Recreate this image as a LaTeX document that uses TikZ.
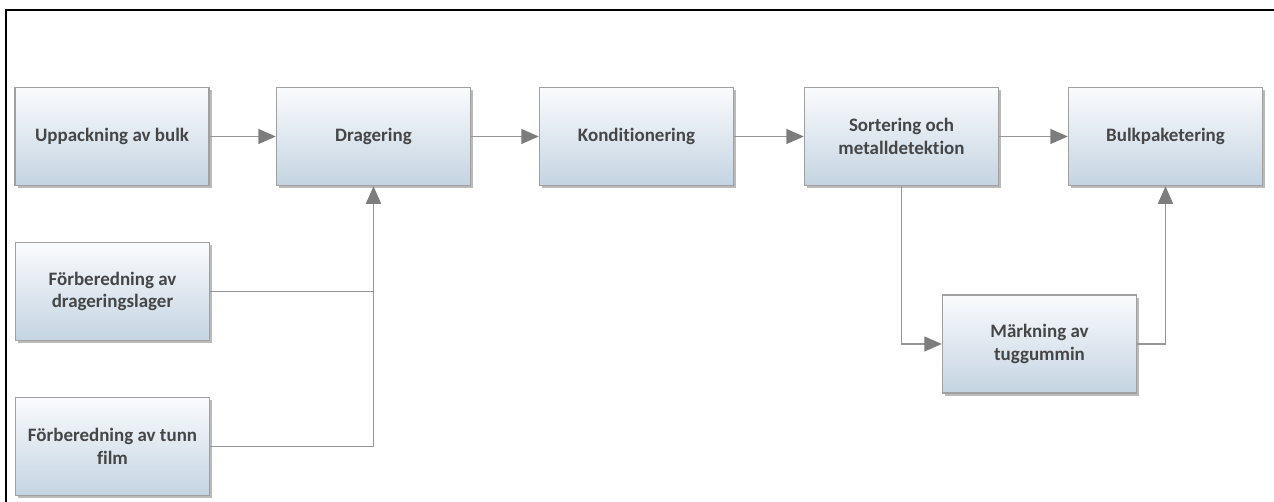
\documentclass[tikz,border=0pt]{standalone}
\usepackage{fontspec}
\setmainfont{Carlito}[Ligatures=NoCommon]
\usepackage{tikz}
\usetikzlibrary{arrows.meta,positioning,shadows}
\definecolor{boxtop}{RGB}{250,251,253}
\definecolor{boxbot}{RGB}{196,212,226}
\definecolor{boxline}{RGB}{160,160,160}
\definecolor{arrowgray}{RGB}{125,125,125}
\definecolor{linegray}{RGB}{150,150,150}
\definecolor{textgray}{RGB}{70,70,70}

\begin{document}
\begin{tikzpicture}[x=0.02cm,y=-0.02cm,
    box/.style={draw=boxline,line width=0.8pt,align=center,minimum width=3.88cm,minimum height=1.96cm,
        top color=boxtop,bottom color=boxbot,text=textgray,
        font=\fontsize{10.8}{12.8}\selectfont\bfseries,inner sep=4pt,
        drop shadow={shadow xshift=1.5pt,shadow yshift=-1.5pt,opacity=0.45,fill=black!60}},
    flow/.style={-{Triangle[length=10pt,width=8.5pt,color=arrowgray]},draw=linegray,line width=1pt},
    link/.style={draw=linegray,line width=1pt}]
\useasboundingbox (0,0) rectangle (1274,502);
\draw[line width=1.3pt] (6,502) -- (6,10) -- (1274,10);

\node[box] (unpack) at (112,136.5) {Uppackning av bulk};
\node[box] (coat) at (373.5,136.5) {Dragering};
\node[box] (cond) at (636.5,136.5) {Konditionering};
\node[box] (sort) at (901.5,136.5) {Sortering och\\metalldetektion};
\node[box] (bulk) at (1165.5,136.5) {Bulkpaketering};
\node[box] (layer) at (112.5,291.5) {Förberedning av\\drageringslager};
\node[box] (film) at (112.5,446.5) {Förberedning av tunn\\film};
\node[box] (mark) at (1039.5,344) {Märkning av\\tuggummin};

\draw[flow] (unpack) -- (coat);
\draw[flow] (coat) -- (cond);
\draw[flow] (cond) -- (sort);
\draw[flow] (sort) -- (bulk);
\draw[link] (layer.east) -- (layer.east -| coat.south);
\draw[flow] (film.east) -| (coat.south);
\draw[flow] (sort.south) |- (mark.west);
\draw[flow] (mark.east) -| (bulk.south);
\end{tikzpicture}
\end{document}
